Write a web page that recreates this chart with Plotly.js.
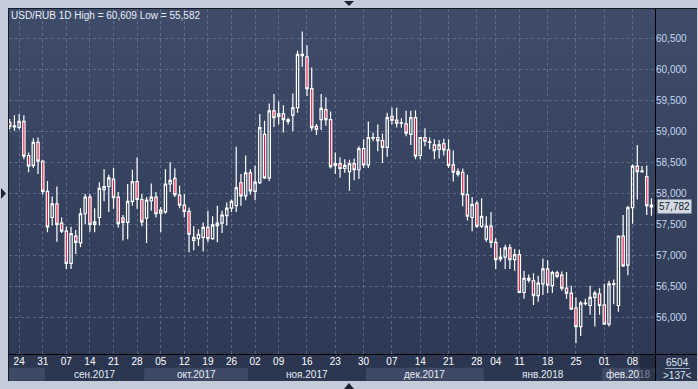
<!DOCTYPE html>
<html><head><meta charset="utf-8">
<script src="https://cdn.plot.ly/plotly-3.0.1.min.js"></script>
<style>
html,body{margin:0;padding:0;background:#c3ccd8;width:698px;height:389px;overflow:hidden}
#panel{position:absolute;left:8px;top:8px;width:689px;height:373px;background:#2b3751;border-left:1px solid #141a26;border-top:1px solid #141a26;box-sizing:border-box}
#plotbg{position:absolute;left:9px;top:9px;width:688px;height:345px;background:linear-gradient(#3e4c6a,#2e3a55)}
#chart{position:absolute;left:0;top:0;width:698px;height:389px}
#deco{position:absolute;left:0;top:0;pointer-events:none}
</style></head>
<body>
<div id="panel"></div>
<div id="plotbg"></div>
<div id="chart"></div>
<svg id="deco" width="698" height="389">
  <rect x="640" y="355" width="15" height="26" fill="rgba(28,36,56,0.55)"/>
  <line x1="655.5" y1="9" x2="655.5" y2="381" stroke="#000" stroke-width="1"/>
  <line x1="9" y1="354.5" x2="697" y2="354.5" stroke="#000" stroke-width="1"/>
  <line x1="665" y1="368.5" x2="690" y2="368.5" stroke="#9aa8bc" stroke-width="1"/>
  <path d="M344,1 L354,1 L349,6 Z" fill="#1c2433"/>
  <path d="M344,389 L354,389 L349,383 Z" fill="#1c2433"/>
  <path d="M1,188 L1,199 L6,193.5 Z" fill="#1c2433"/>
</svg>
<script>
// OHLC values, USD/RUB daily (bars in order)
const openV = [59.145,59.07,59.065,59.16,58.61,58.45,58.82,58.52,58.03,57.61,57.83,57.52,57.39,56.87,57.31,57.2,57.67,57.94,57.5,57.61,58.06,58.11,58.23,
57.94,57.6,57.53,57.87,58.19,57.9,57.6,57.88,57.94,57.68,57.7,58.15,58.24,57.97,57.81,57.71,57.24,57.27,57.29,57.45,57.27,57.48,57.52,57.64,
57.76,57.8,58.17,57.96,58.33,58.03,58.17,58.95,58.25,59.33,59.24,59.28,59.16,59.26,59.38,60.22,60.2,59.69,59.08,59.19,59.35,59.19,
58.45,58.48,58.4,58.35,58.48,58.38,58.72,58.46,58.89,58.9,58.85,58.74,59.24,59.18,59.13,59.12,58.95,59.22,58.61,58.9,58.82,58.78,58.71,
58.8,58.7,58.46,58.35,58.34,57.98,57.61,57.84,57.47,57.26,57.47,57.21,56.94,56.97,57.12,56.93,57.01,56.4,56.6,56.59,56.35,56.54,56.78,
56.51,56.72,56.68,56.47,56.39,56.15,55.85,56.22,56.19,56.32,56.38,56.2,55.89,56.53,56.19,57.31,56.84,57.77,58.44,58.35,58.27,57.81];
const highV = [59.2,59.26,59.28,59.26,58.66,58.89,58.9,58.52,58.2,57.95,58.11,57.61,57.46,57.46,57.41,57.76,57.99,57.99,57.76,58.18,58.39,58.3,58.41,
58.02,57.65,58.15,58.38,58.58,57.99,57.94,58.16,58.02,57.78,58.39,58.5,58.4,58.12,57.99,57.77,57.47,57.42,57.53,57.72,57.63,57.8,57.72,57.85,
57.9,58.75,58.31,58.61,58.39,58.45,59.28,59.17,59.45,59.6,59.48,59.42,59.22,59.61,60.3,60.609,60.39,60.03,59.12,59.6,59.55,59.32,
58.66,58.58,58.55,58.54,58.56,58.76,58.87,59.16,58.98,59.11,58.96,59.3,59.38,59.38,59.21,59.33,59.33,59.34,58.91,59.05,58.9,58.87,58.86,
58.88,58.87,58.69,58.4,58.4,58.3,57.94,57.88,57.92,57.63,57.7,57.28,57.12,57.17,57.18,57.1,57.09,56.75,56.69,56.71,56.67,56.95,56.92,
56.75,56.75,56.74,56.73,56.51,56.32,56.26,56.3,56.51,56.43,56.47,56.54,56.59,56.61,57.31,57.65,57.8,58.47,58.78,58.44,58.45,57.92];
const lowV = [59.03,59.01,59.03,58.55,58.34,58.41,58.31,57.98,57.37,57.48,57.22,57.36,56.78,56.78,57.02,57.13,57.5,57.38,57.37,57.48,57.87,57.7,57.75,
57.45,57.24,57.26,57.8,57.75,57.47,57.2,57.72,57.61,57.37,57.67,58.02,57.94,57.76,57.61,57.05,57.08,57.15,57.06,57.21,57.25,57.21,57.36,57.48,
57.7,57.7,57.8,57.89,57.98,57.89,58.15,58.23,58.2,59.07,59.11,58.98,59.11,59.0,59.3,60.04,59.57,59.01,58.94,59.02,59.09,58.4,
58.31,58.25,58.33,58.04,58.21,58.23,58.41,58.41,58.84,58.68,58.49,58.59,59.11,59.06,59.06,58.92,58.78,58.55,58.55,58.76,58.71,58.55,58.56,
58.61,58.41,58.19,58.27,57.79,57.56,57.39,57.44,57.44,57.22,57.12,56.78,56.9,56.78,56.78,56.75,56.39,56.3,56.56,56.2,56.25,56.36,56.39,
56.39,56.63,56.43,56.3,56.12,55.582,55.7,56.19,56.04,55.85,56.04,55.88,55.85,56.21,56.09,56.81,56.68,57.51,57.9,58.33,57.65,57.64];
const closeV = [59.08,59.09,59.16,58.6,58.44,58.82,58.52,58.03,57.46,57.83,57.5,57.39,56.87,57.35,57.21,57.67,57.94,57.5,57.54,58.08,58.11,58.25,57.93,
57.51,57.53,57.87,58.19,57.9,57.54,57.89,57.94,57.67,57.73,58.15,58.21,57.98,57.81,57.71,57.34,57.29,57.34,57.45,57.27,57.49,57.52,57.65,57.76,
57.87,58.09,57.96,58.33,58.04,58.18,59.06,58.25,59.33,59.22,59.28,59.19,59.19,59.38,60.24,60.24,59.69,59.06,59.03,59.37,59.19,58.43,
58.48,58.4,58.45,58.48,58.38,58.72,58.46,58.9,58.9,58.85,58.74,59.22,59.18,59.13,59.135,58.97,59.22,58.6,58.9,58.84,58.83,58.69,58.78,
58.7,58.45,58.34,58.31,57.98,57.63,57.82,57.47,57.63,57.47,57.21,56.93,56.97,57.12,56.93,57.01,56.4,56.63,56.63,56.35,56.55,56.78,56.52,
56.72,56.66,56.47,56.39,56.13,55.85,56.23,56.23,56.32,56.39,56.19,55.89,56.54,56.54,57.31,56.83,57.77,58.44,58.35,58.36,57.8,57.782];

// weekly tick labels (bar index of each labelled day)
const tickIdx  = [2,7,12,17,22,27,32,37,42,47,52,57,63,69,75,81,87,93,99,103,108,114,120,126,132];
const tickText = ['24','31','07','14','21','28','05','12','19','26','02','09','16','23','30','07','14','21','28','04','11','18','25','01','08'];

// months: first bar index of each month
const monthStart = [0,8,29,51,76,101,126];
const monthNames = ['авг.2017','сен.2017','окт.2017','ноя.2017','дек.2017','янв.2018','фев.2018'];

// price axis
const priceTicks = [56,56.5,57,57.5,58,58.5,59,59.5,60,60.5];
const priceLabels = ['56,000','56,500','57,000','57,500','58,000','58,500','59,000','59,500','60,000','60,500'];
const lastPrice = 57.782;
const lastPriceLabel = '57,782';
const titleText = 'USD/RUB 1D High = 60,609 Low = 55,582';
const barsTotal = '6504', barsVisible = '>137<';

const xIdx = closeV.map((_, i) => i);
const FONT = '"Liberation Sans Narrow", "Liberation Sans", Arial, sans-serif';
const FS = 10;
const xMax = 136.75;

const shapes = [], annotations = [];
const bandTop = -13.7/345, bandBot = -26.7/345;
monthStart.forEach((s, k) => {
  const e = k + 1 < monthStart.length ? monthStart[k + 1] : xMax + 0.5;
  shapes.push({type:'rect', xref:'x', yref:'paper', x0:s - 0.5, x1:e - 0.5, y0:bandBot, y1:bandTop,
    fillcolor: k % 2 === 0 ? '#3e4a65' : '#2b3751', line:{width:0}, layer:'below'});
  if (e - s >= 9) {
    const a = Math.max(s - 0.5, -0.15), b = Math.min(e - 0.5, xMax);
    annotations.push({xref:'x', yref:'paper', x:(a + b) / 2, y:-20.3/345, yanchor:'middle', xanchor:'center',
      text:monthNames[k], showarrow:false, font:{family:FONT, size:FS, color:'#e8edf5'}});
  }
});

annotations.push({xref:'paper', yref:'paper', x:0, y:(354-15)/345, xanchor:'left', yanchor:'middle',
  text:titleText, showarrow:false, font:{family:FONT, size:FS, color:'#e6ecf6'}});
annotations.push({xref:'paper', yref:'y', x:1.003, y:lastPrice, xanchor:'left', yanchor:'middle',
  text:lastPriceLabel, showarrow:false, bgcolor:'#d3d9e2', borderpad:1, font:{family:FONT, size:FS, color:'#151b28'}});
annotations.push({xref:'paper', yref:'paper', x:(677-9)/646, y:(354-362)/345, xanchor:'center', yanchor:'middle',
  text:barsTotal, showarrow:false, font:{family:FONT, size:FS, color:'#dfe6f2'}});
annotations.push({xref:'paper', yref:'paper', x:(677-9)/646, y:(354-375)/345, xanchor:'center', yanchor:'middle',
  text:barsVisible, showarrow:false, font:{family:FONT, size:FS, color:'#dfe6f2'}});

const trace = {
  type:'candlestick', x:xIdx, open:openV, high:highV, low:lowV, close:closeV,
  increasing:{line:{color:'#ffffff', width:1.2}, fillcolor:'rgba(0,0,0,0)'},
  decreasing:{line:{color:'#ffffff', width:1.2}, fillcolor:'#e3173e'},
  whiskerwidth:0, hoverinfo:'skip', showlegend:false
};

const gridCol = 'rgba(120,136,168,0.55)';
const layout = {
  width:698, height:389,
  margin:{l:9, r:43, t:9, b:35, pad:0},
  paper_bgcolor:'rgba(0,0,0,0)', plot_bgcolor:'rgba(0,0,0,0)',
  showlegend:false, boxgap:0.3,
  xaxis:{type:'linear', range:[-0.15, xMax], tickmode:'array', tickvals:tickIdx, ticktext:tickText,
    ticks:'', tickfont:{family:FONT, size:FS, color:'#ffffff'}, showgrid:true, gridcolor:gridCol,
    griddash:'3px,3px', gridwidth:1, zeroline:false, showline:false, rangeslider:{visible:false}, fixedrange:true},
  yaxis:{side:'right', range:[55.408, 60.973], tickmode:'array', tickvals:priceTicks, ticktext:priceLabels,
    ticks:'', tickfont:{family:FONT, size:FS, color:'#c6d5ee'}, showgrid:true, gridcolor:gridCol,
    griddash:'3px,3px', gridwidth:1, zeroline:false, showline:false, fixedrange:true},
  shapes, annotations
};
Plotly.newPlot('chart', [trace], layout, {staticPlot:true, displayModeBar:false});
</script>
</body></html>
